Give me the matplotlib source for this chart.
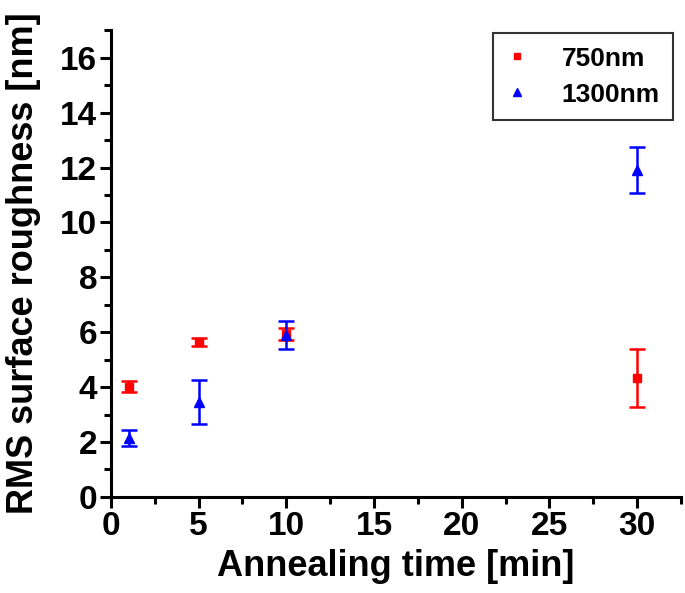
import numpy as np
import matplotlib.pyplot as plt
from matplotlib.ticker import MultipleLocator
from matplotlib.lines import Line2D

plt.rcParams['font.family'] = ['Liberation Sans', 'DejaVu Sans']
plt.rcParams['font.weight'] = 'bold'

# annealing time [min]
t = [1, 5, 10, 30]

# 750nm
r750 = [4.02, 5.64, 5.95, 4.33]
e750 = [0.2, 0.14, 0.22, 1.05]

# 1300nm
r1300 = [2.15, 3.45, 5.9, 11.9]
e1300 = [0.3, 0.8, 0.5, 0.84]

fig = plt.figure(figsize=(6.85, 5.93), dpi=100)
ax = fig.add_axes([0.162, 0.162, 0.832, 0.787])

ax.errorbar(t, r750, yerr=e750, fmt='s', color='#ff0000', ms=6, elinewidth=1.8,
            capsize=6, capthick=1.8, label='750nm')
ax.errorbar(t, r1300, yerr=e1300, fmt='^', color='#0000ff', ms=7, elinewidth=1.8,
            capsize=6, capthick=1.8, label='1300nm')

ax.set_xlim(0, 32.5)
ax.set_ylim(0, 17)
ax.xaxis.set_major_locator(MultipleLocator(5))
ax.xaxis.set_minor_locator(MultipleLocator(2.5))
ax.yaxis.set_major_locator(MultipleLocator(2))
ax.yaxis.set_minor_locator(MultipleLocator(1))

for s in ['top', 'right']:
    ax.spines[s].set_visible(False)
for s in ['left', 'bottom']:
    ax.spines[s].set_linewidth(2.2)
ax.tick_params(which='major', length=8, width=2.2, labelsize=24, pad=2)
ax.tick_params(which='minor', length=5, width=2.2)

ax.set_xlabel('Annealing time [min]', fontsize=26, fontweight='bold', labelpad=5)
ax.set_ylabel('RMS surface roughness [nm]', fontsize=26, fontweight='bold', labelpad=14)

# legend handles without error bars
h = [Line2D([], [], ls='none', marker='s', color='#ff0000', ms=5),
     Line2D([], [], ls='none', marker='^', color='#0000ff', ms=6)]
leg = ax.legend(h, ['750nm', '1300nm'], loc='upper right', bbox_to_anchor=(1.0, 1.01),
                fontsize=19, frameon=True, fancybox=False, edgecolor='black',
                handletextpad=1.3, borderpad=0.5, labelspacing=0.45, handlelength=0.8,
                borderaxespad=0.3)
leg.get_frame().set_linewidth(1.5)

fig.savefig('out.png', dpi=100)
